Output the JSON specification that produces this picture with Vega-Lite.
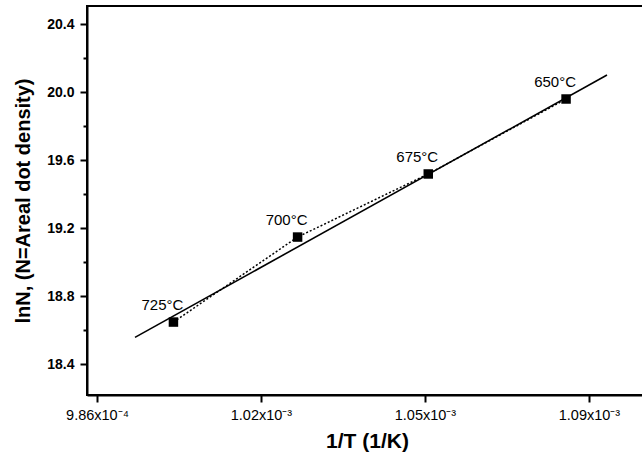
{
  "$schema": "https://vega.github.io/schema/vega-lite/v6.json",
  "width": 560,
  "height": 389,
  "autosize": {"type": "none"},
  "padding": {"left": 87, "top": 6, "right": 0, "bottom": 77},
  "background": "white",
  "config": {
    "view": {"stroke": "black", "strokeWidth": 2},
    "font": "Liberation Sans"
  },
  "datasets": {
    "pts": [
      {"invT": 0.00100185, "lnN": 18.647, "label": "725°C"},
      {"invT": 0.00102759, "lnN": 19.147, "label": "700°C"},
      {"invT": 0.00105468, "lnN": 19.518, "label": "675°C"},
      {"invT": 0.00108325, "lnN": 19.959, "label": "650°C"}
    ],
    "fit": [
      {"invT": 0.00099388, "lnN": 18.557},
      {"invT": 0.00109174, "lnN": 20.10}
    ],
    "minor": [
      {"lnN": 18.6}, {"lnN": 19.0}, {"lnN": 19.4}, {"lnN": 19.8}, {"lnN": 20.2}
    ]
  },
  "resolve": {"axis": {"y": "independent"}},
  "layer": [
    {
      "data": {"name": "fit"},
      "mark": {"type": "line", "color": "black", "strokeWidth": 1.6},
      "encoding": {
        "x": {
          "field": "invT", "type": "quantitative",
          "scale": {"domain": [0.00098393, 0.00110003], "nice": false, "zero": false},
          "axis": {
            "values": [0.000986, 0.00102, 0.001054, 0.001088],
            "labelExpr": "datum.value < 0.001 ? '9.86x10⁻⁴' : datum.value < 0.00103 ? '1.02x10⁻³' : datum.value < 0.00106 ? '1.05x10⁻³' : '1.09x10⁻³'",
            "grid": false, "tickSize": 7, "tickWidth": 2, "tickColor": "black",
            "domainColor": "black", "domainWidth": 2,
            "labelFontSize": 14.5, "labelColor": "black", "labelPadding": 6,
            "labelFlush": false,
            "title": "1/T (1/K)", "titleFontSize": 21, "titleFontWeight": "bold",
            "titleColor": "black", "titlePadding": 9
          }
        },
        "y": {
          "field": "lnN", "type": "quantitative",
          "scale": {"domain": [18.218, 20.506], "nice": false, "zero": false},
          "axis": {
            "values": [18.4, 18.8, 19.2, 19.6, 20.0, 20.4],
            "format": ".1f",
            "grid": false, "tickSize": 7, "tickWidth": 2, "tickColor": "black",
            "domainColor": "black", "domainWidth": 2,
            "labelFontSize": 14, "labelFontWeight": "bold", "labelColor": "black",
            "labelPadding": 6,
            "title": "lnN, (N=Areal dot density)", "titleFontSize": 20,
            "titleFontWeight": "bold", "titleColor": "black", "titlePadding": 13
          }
        }
      }
    },
    {
      "data": {"name": "pts"},
      "mark": {"type": "line", "color": "black", "strokeWidth": 1.5, "strokeDash": [2, 2]},
      "encoding": {
        "x": {"field": "invT", "type": "quantitative"},
        "y": {"field": "lnN", "type": "quantitative", "axis": null}
      }
    },
    {
      "data": {"name": "pts"},
      "mark": {"type": "square", "color": "black", "size": 90, "opacity": 1, "filled": true},
      "encoding": {
        "x": {"field": "invT", "type": "quantitative"},
        "y": {"field": "lnN", "type": "quantitative", "axis": null}
      }
    },
    {
      "data": {"name": "pts"},
      "mark": {"type": "text", "color": "black", "fontSize": 15, "dx": -11, "dy": -9, "baseline": "bottom", "align": "center"},
      "encoding": {
        "x": {"field": "invT", "type": "quantitative"},
        "y": {"field": "lnN", "type": "quantitative", "axis": null},
        "text": {"field": "label"}
      }
    },
    {
      "data": {"name": "minor"},
      "mark": {"type": "point", "opacity": 0},
      "encoding": {
        "y": {
          "field": "lnN", "type": "quantitative",
          "axis": {
            "orient": "left", "values": [18.6, 19.0, 19.4, 19.8, 20.2],
            "labels": false, "domain": false, "grid": false,
            "tickSize": 4, "tickWidth": 2, "tickColor": "black", "title": null
          }
        }
      }
    }
  ]
}
